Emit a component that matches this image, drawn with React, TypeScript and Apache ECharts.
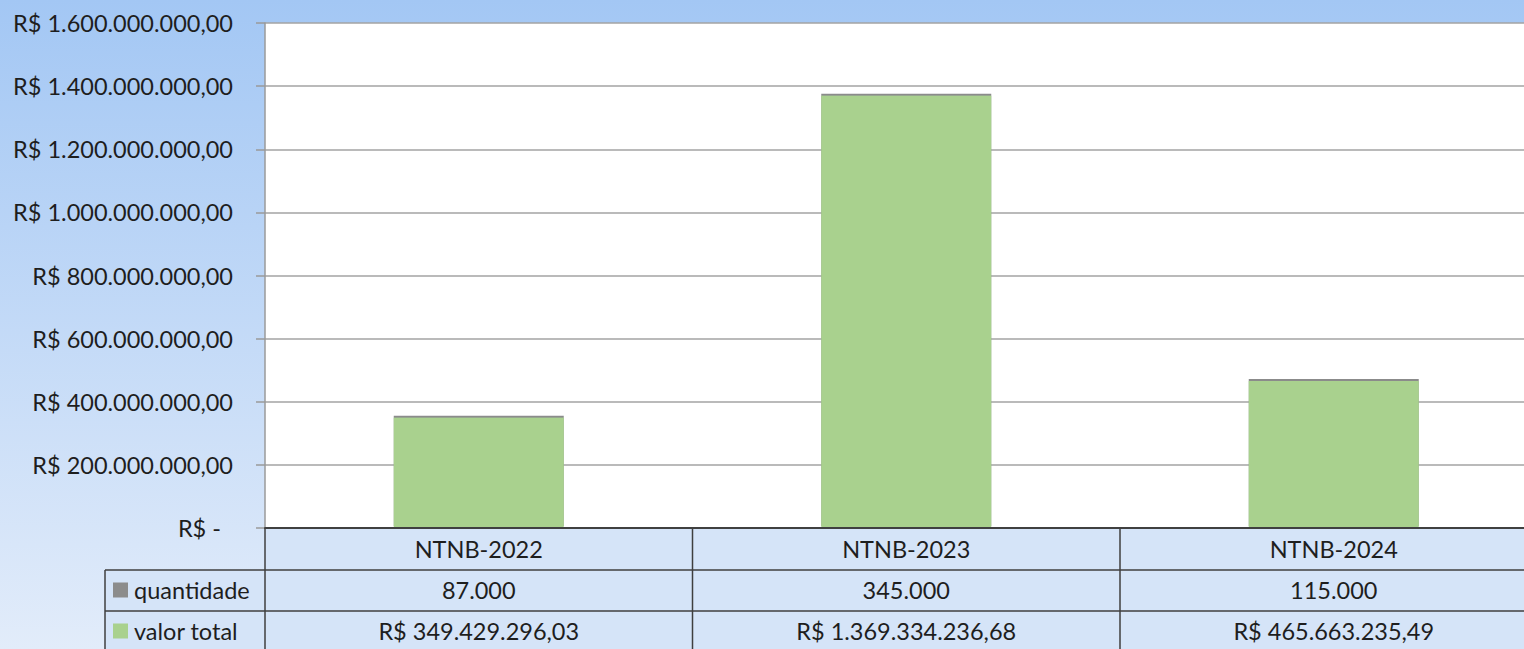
import React, { useEffect, useRef } from "react";
import * as echarts from "echarts";

const categories = ["NTNB-2022", "NTNB-2023", "NTNB-2024"];
const quantidade = [87000, 345000, 115000];
const valorTotal = [349429296.03, 1369334236.68, 465663235.49];
const seriesNames = ["quantidade", "valor total"];
const seriesColors = ["#8c8c8c", "#a9d18e"];

const FONT = "Lato";
const FS = 23.5;
const W = 1524;
const H = 649;
const CW = 1548; // chart is wider than the window; it is cropped on the right
const GRID_LEFT = 265;
const GRID_TOP = 23;
const GRID_BOTTOM_Y = 528;
const GRID_WIDTH = 1282.5;

function groupThousands(intStr: string): string {
  return intStr.replace(/\B(?=(\d{3})+(?!\d))/g, ".");
}
function fmtInt(v: number): string {
  return groupThousands(Math.round(v).toString());
}
function fmtBRL(v: number): string {
  const [i, d] = v.toFixed(2).split(".");
  return "R$ " + groupThousands(i) + "," + d;
}

export default function App() {
  const ref = useRef<HTMLDivElement>(null);
  useEffect(() => {
    if (!ref.current) return;
    const chart = echarts.init(ref.current, undefined, { renderer: "svg" });
    const colW = GRID_WIDTH / categories.length;
    const rowTops = [528, 570, 611, 652];
    const lineColor = "#3f3f3f";
    const textColor = "#1e1e1e";
    const graphics: any[] = [];
    graphics.push({
      type: "rect",
      shape: { x: GRID_LEFT, y: rowTops[0], width: CW - GRID_LEFT, height: H - rowTops[0] },
      style: { fill: "#d5e4f8" },
      z: 0,
    });
    graphics.push({
      type: "rect",
      shape: { x: 105, y: rowTops[1], width: GRID_LEFT - 105, height: H - rowTops[1] },
      style: { fill: "#d5e4f8" },
      z: 0,
    });
    [rowTops[1], rowTops[2]].forEach((y) => {
      graphics.push({
        type: "line",
        shape: { x1: 105, y1: y, x2: CW, y2: y },
        style: { stroke: lineColor, lineWidth: 1.5 },
        z: 10,
      });
    });
    graphics.push({
      type: "line",
      shape: { x1: 105, y1: rowTops[1], x2: 105, y2: H },
      style: { stroke: lineColor, lineWidth: 1.5 },
      z: 10,
    });
    for (let i = 0; i <= categories.length; i++) {
      const x = GRID_LEFT + i * colW;
      graphics.push({
        type: "line",
        shape: { x1: x, y1: rowTops[0], x2: x, y2: H },
        style: { stroke: lineColor, lineWidth: 1.5 },
        z: 10,
      });
    }
    const rowsData = [quantidade.map(fmtInt), valorTotal.map(fmtBRL)];
    seriesNames.forEach((name, r) => {
      const cy = (rowTops[r + 1] + rowTops[r + 2]) / 2 - 1;
      graphics.push({
        type: "rect",
        shape: { x: 113, y: cy - 7, width: 15, height: 15 },
        style: { fill: seriesColors[r] },
        z: 11,
      });
      graphics.push({
        type: "text",
        x: 134,
        y: cy,
        style: {
          text: name,
          font: `${FS}px ${FONT}`,
          fill: textColor,
          verticalAlign: "middle",
          textAlign: "left",
        },
        z: 11,
      });
      rowsData[r].forEach((txt, i) => {
        graphics.push({
          type: "text",
          x: GRID_LEFT + (i + 0.5) * colW,
          y: cy,
          style: {
            text: txt,
            font: `${FS}px ${FONT}`,
            fill: textColor,
            verticalAlign: "middle",
            textAlign: "center",
          },
          z: 11,
        });
      });
    });

    chart.setOption({
      animation: false,
      backgroundColor: new echarts.graphic.LinearGradient(0, 0, 0, 1, [
        { offset: 0, color: "#a3c7f4" },
        { offset: 1, color: "#e2ecfa" },
      ]),
      textStyle: { fontFamily: FONT },
      grid: {
        left: GRID_LEFT,
        top: GRID_TOP,
        width: GRID_WIDTH,
        height: GRID_BOTTOM_Y - GRID_TOP,
        show: true,
        backgroundColor: "#ffffff",
        borderWidth: 0,
        containLabel: false,
      },
      xAxis: {
        type: "category",
        data: categories,
        axisLine: { show: true, lineStyle: { color: "#404040", width: 2 } },
        axisTick: { show: false },
        axisLabel: {
          margin: 8,
          fontSize: FS,
          lineHeight: 26,
          color: textColor,
          fontFamily: FONT,
        },
        z: 12,
      },
      yAxis: {
        type: "value",
        min: 0,
        max: 1600000000,
        interval: 200000000,
        axisLine: { show: true, lineStyle: { color: "#9a9a9a", width: 1.5 } },
        axisTick: { show: true, inside: false, length: 9, lineStyle: { color: "#9a9a9a", width: 1.5 } },
        splitLine: { show: true, lineStyle: { color: "#a3a3a3", width: 1.5 } },
        axisLabel: {
          margin: 32,
          fontSize: FS,
          color: textColor,
          fontFamily: FONT,
          formatter: (v: number) => (v === 0 ? "{z|R$ -}" : fmtBRL(v)),
          rich: { z: { fontSize: FS, fontFamily: FONT, color: textColor, padding: [0, 12, 0, 0] } },
        },
      },
      series: [
        {
          name: seriesNames[0],
          type: "bar",
          data: quantidade,
          barWidth: 170,
          barGap: "-100%",
          itemStyle: { color: seriesColors[0] },
        },
        {
          name: seriesNames[1],
          type: "bar",
          data: valorTotal,
          barWidth: 170,
          barGap: "-100%",
          itemStyle: {
            color: seriesColors[1],
            shadowColor: "rgba(110,110,110,0.8)",
            shadowOffsetY: -2,
            shadowBlur: 0,
          },
        },
      ],
      graphic: { elements: graphics },
    });
    return () => chart.dispose();
  }, []);
  return (
    <div style={{ position: "absolute", left: 0, top: 0, width: W, height: H, overflow: "hidden" }}>
      <div ref={ref} style={{ width: CW, height: H }} />
    </div>
  );
}
